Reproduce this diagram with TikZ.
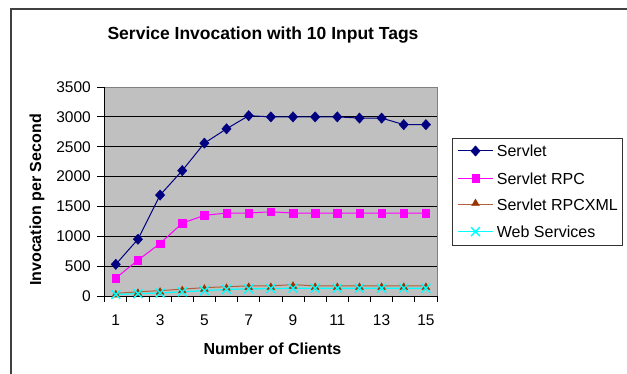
\documentclass[tikz,border=0pt]{standalone}
\usepackage{fontspec}
\setmainfont{Liberation Sans}
\usetikzlibrary{shapes.geometric,shapes.misc,calc}
\definecolor{servletc}{HTML}{000080}
\definecolor{rpcc}{HTML}{FF00FF}
\definecolor{xmlline}{HTML}{B0603A}
\definecolor{xmlmark}{HTML}{993300}
\definecolor{wsc}{HTML}{00FFFF}
\definecolor{plotbg}{HTML}{C0C0C0}
\begin{document}
\begin{tikzpicture}[x=1pt,y=-1pt,
  ticklab/.style={inner sep=0pt,font=\fontsize{15.5}{18}\selectfont},
  axlab/.style={inner sep=0pt,font=\fontsize{16}{19}\selectfont\bfseries},
  legtext/.style={inner sep=0pt,anchor=west,font=\fontsize{16}{19}\selectfont},
  dmark/.style={diamond,fill=servletc,draw=servletc,inner sep=0pt,minimum width=9.5pt,minimum height=10.5pt},
  smark/.style={rectangle,fill=rpcc,draw=rpcc,inner sep=0pt,minimum size=7.5pt},
  tmark/.style={regular polygon,regular polygon sides=3,fill=xmlmark,draw=xmlmark,inner sep=0pt,minimum size=9pt},
  xmark/.style={cross out,draw=wsc,line width=1.4pt,inner sep=0pt,minimum size=7.5pt},
  serline/.style={draw=servletc,line width=1pt},
  rpcline/.style={draw=rpcc,line width=1pt},
  xmlln/.style={draw=xmlline,line width=1pt},
  wsline/.style={draw=wsc,line width=1.2pt}]
\useasboundingbox (0,0) rectangle (627,374);
\fill[white] (0,0) rectangle (627,374);
% outer frame (only top and left visible)
\draw[line width=2pt,black!75] (10.5,374) -- (10.5,9) -- (627,9);
% plot area
\def\xl{104.7}\def\xr{437}\def\yt{87}\def\yb{296}
\fill[plotbg] (\xl,\yt) rectangle (\xr,\yb);
\draw[gray,line width=0.8pt] (\xl,\yt) -- (\xr,\yt) -- (\xr,\yb);
\foreach \v in {500,1000,...,3000}
  \draw[black,line width=0.8pt] (\xl,{\yb-\v*0.059714}) -- (\xr,{\yb-\v*0.059714});
\draw[black,line width=0.8pt] (\xl,\yt) -- (\xl,\yb) -- (\xr,\yb);
% y ticks and labels
\foreach \v in {0,500,...,3500}{
  \draw[black,line width=0.8pt] (97,{\yb-\v*0.059714}) -- (\xl,{\yb-\v*0.059714});
  \node[ticklab,anchor=east] (yl\v) at (91,{\yb-\v*0.059714}) {\v};
}
% x ticks
\foreach \i in {0,...,15}
  \draw[black,line width=0.8pt] ({\xl+\i*22.153},\yb) -- ({\xl+\i*22.153},302);
\foreach \i in {1,3,...,15}
  \node[ticklab] (xl\i) at ({\xl+(\i-0.5)*22.153},320) {\i};
% titles
\node[inner sep=0pt,font=\fontsize{17.5}{20}\selectfont\bfseries] (title) at (263,35) {Service Invocation with 10 Input Tags};
\node[axlab,rotate=90] (ylab) at (37,200) {Invocation per Second};
\node[axlab] (xlab) at (272.5,349) {Number of Clients};
% data coordinates
\foreach \i/\v in {1/530,2/950,3/1690,4/2100,5/2560,6/2800,7/3020,8/3000,9/3000,10/3000,11/3000,12/2980,13/2980,14/2870,15/2870}
  \coordinate (s\i) at ({\xl+(\i-0.5)*22.153},{\yb-\v*0.059714});
\foreach \i/\v in {1/300,2/600,3/880,4/1220,5/1350,6/1390,7/1390,8/1410,9/1390,10/1390,11/1390,12/1390,13/1390,14/1390,15/1390}
  \coordinate (r\i) at ({\xl+(\i-0.5)*22.153},{\yb-\v*0.059714});
\foreach \i/\v in {1/45,2/70,3/90,4/115,5/140,6/155,7/170,8/170,9/190,10/170,11/170,12/170,13/170,14/170,15/170}
  \coordinate (m\i) at ({\xl+(\i-0.5)*22.153},{\yb-\v*0.059714});
\foreach \i/\v in {1/25,2/40,3/50,4/70,5/90,6/110,7/120,8/125,9/130,10/130,11/130,12/130,13/130,14/130,15/130}
  \coordinate (w\i) at ({\xl+(\i-0.5)*22.153},{\yb-\v*0.059714});
% series lines
\draw[xmlln] (m1) \foreach \i in {2,...,15}{ -- (m\i)};
\draw[wsline] (w1) \foreach \i in {2,...,15}{ -- (w\i)};
\draw[rpcline] (r1) \foreach \i in {2,...,15}{ -- (r\i)};
\draw[serline] (s1) \foreach \i in {2,...,15}{ -- (s\i)};
% markers
\foreach \i in {1,...,15}{
  \node[tmark] at ([yshift=-1.5pt]m\i) {};
  \node[xmark] at (w\i) {};
  \node[smark] at (r\i) {};
  \node[dmark] at (s\i) {};
}
% legend
\node[draw=black!80,fill=white,line width=0.8pt,minimum width=170.6pt,minimum height=107.3pt,inner sep=0pt,anchor=north west] (legend) at (451.7,137.7) {};
\coordinate (la1) at (458,151); \coordinate (lb1) at (493,151);
\coordinate (la2) at (458,178.3); \coordinate (lb2) at (493,178.3);
\coordinate (la3) at (458,205); \coordinate (lb3) at (493,205);
\coordinate (la4) at (458,231.7); \coordinate (lb4) at (493,231.7);
\draw[serline] (la1) -- (lb1); \node[dmark] (lm1) at ($(la1)!0.5!(lb1)$) {};
\draw[rpcline] (la2) -- (lb2); \node[smark] (lm2) at ($(la2)!0.5!(lb2)$) {};
\draw[xmlln] (la3) -- (lb3); \node[tmark] (lm3) at ($(la3)!0.5!(lb3)+(0,-1.5)$) {};
\draw[wsline] (la4) -- (lb4); \node[xmark] (lm4) at ($(la4)!0.5!(lb4)$) {};
\node[legtext] (lt1) at (496.7,151) {Servlet};
\node[legtext] (lt2) at (496.7,178.3) {Servlet RPC};
\node[legtext] (lt3) at (496.7,205) {Servlet RPCXML};
\node[legtext] (lt4) at (496.7,231.7) {Web Services};
\end{tikzpicture}
\end{document}
